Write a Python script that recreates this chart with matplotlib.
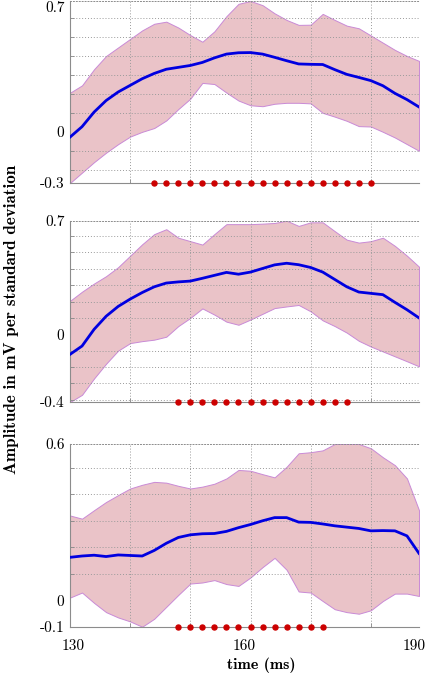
import numpy as np
import matplotlib
matplotlib.use('Agg')
import matplotlib.pyplot as plt

plt.rcParams['axes.unicode_minus'] = False

# ---- data (30 samples spanning 130-190 ms) ----
n_samples = 30
t_start, t_end = 130, 190

mean1 = [-0.028, 0.027, 0.104, 0.165, 0.21, 0.245, 0.28, 0.308, 0.33, 0.34,
         0.35, 0.366, 0.39, 0.41, 0.417, 0.418, 0.41, 0.393, 0.375, 0.358,
         0.356, 0.355, 0.328, 0.303, 0.287, 0.27, 0.243, 0.203, 0.17, 0.131]
upper1 = [0.206, 0.245, 0.33, 0.40, 0.445, 0.49, 0.535, 0.57, 0.581, 0.55,
          0.51, 0.475, 0.53, 0.61, 0.675, 0.69, 0.668, 0.625, 0.59, 0.564,
          0.565, 0.622, 0.59, 0.56, 0.546, 0.508, 0.47, 0.432, 0.40, 0.374]
lower1 = [-0.27, -0.215, -0.16, -0.11, -0.065, -0.025, 0.0, 0.02, 0.06, 0.12,
          0.175, 0.258, 0.252, 0.207, 0.165, 0.14, 0.135, 0.148, 0.153, 0.153,
          0.15, 0.1, 0.08, 0.058, 0.03, 0.028, 0.0, -0.03, -0.065, -0.1]

mean2 = [-0.123, -0.072, 0.03, 0.11, 0.17, 0.215, 0.255, 0.29, 0.313, 0.32,
         0.325, 0.342, 0.36, 0.378, 0.367, 0.38, 0.402, 0.424, 0.434, 0.425,
         0.408, 0.38, 0.335, 0.29, 0.258, 0.25, 0.242, 0.195, 0.15, 0.1]
upper2 = [0.204, 0.26, 0.31, 0.355, 0.41, 0.48, 0.55, 0.612, 0.642, 0.59,
          0.569, 0.548, 0.612, 0.673, 0.673, 0.673, 0.676, 0.68, 0.694, 0.662,
          0.684, 0.684, 0.63, 0.578, 0.56, 0.569, 0.59, 0.54, 0.48, 0.413]
lower2 = [-0.414, -0.37, -0.27, -0.18, -0.1, -0.054, -0.042, -0.033, -0.015, 0.05,
          0.1, 0.158, 0.12, 0.077, 0.058, 0.09, 0.125, 0.16, 0.17, 0.179,
          0.14, 0.085, 0.05, 0.01, -0.04, -0.075, -0.105, -0.135, -0.165, -0.196]

mean3 = [0.162, 0.167, 0.17, 0.165, 0.171, 0.169, 0.167, 0.188, 0.215, 0.237,
         0.247, 0.251, 0.252, 0.26, 0.274, 0.286, 0.3, 0.312, 0.312, 0.295,
         0.294, 0.288, 0.281, 0.276, 0.271, 0.262, 0.263, 0.262, 0.243, 0.177]
upper3 = [0.32, 0.308, 0.34, 0.371, 0.397, 0.422, 0.436, 0.447, 0.444, 0.432,
          0.422, 0.429, 0.44, 0.46, 0.492, 0.489, 0.476, 0.464, 0.504, 0.555,
          0.559, 0.566, 0.59, 0.59, 0.59, 0.574, 0.54, 0.51, 0.46, 0.34]
lower3 = [0.01, 0.029, -0.01, -0.045, -0.065, -0.08, -0.1, -0.07, -0.025, 0.02,
          0.063, 0.067, 0.076, 0.061, 0.054, 0.086, 0.125, 0.16, 0.115, 0.033,
          0.029, -0.003, -0.034, -0.045, -0.051, -0.038, -0.003, 0.025, 0.025, 0.016]

# significant sample ranges (first, last sample index)
sig1 = (7, 25)
sig2 = (9, 23)
sig3 = (9, 21)

xtick_labels = ['130', '160', '190']
xlabel = 'time (ms)'
ylabel = 'Amplitude in mV per standard deviation'

panels = [(mean1, upper1, lower1, sig1),
          (mean2, upper2, lower2, sig2),
          (mean3, upper3, lower3, sig3)]

W, H = 429, 674
rects_px = [(70, 1, 419, 183), (70, 220.7, 419, 402), (70, 444, 419, 626.7)]
# horizontal nudge (px) of the three x tick labels, as in the reference
xlabel_nudge_px = [3, 0, -5]

t = np.linspace(t_start, t_end, n_samples)

fig = plt.figure(figsize=(W / 100, H / 100), dpi=100)
tick_font = dict(family='cmr10', size=11)

for k, ((m, up, lo, sig), (x0, y0, x1, y1)) in enumerate(zip(panels, rects_px)):
    ax = fig.add_axes([x0 / W, 1 - y1 / H, (x1 - x0) / W, (y1 - y0) / H])
    m, up, lo = np.array(m), np.array(up), np.array(lo)
    ax.fill_between(t, lo, up, facecolor='#eac3c8', edgecolor='#c98ad6',
                    linewidth=0.7, zorder=1)
    ax.plot(t, m, color='#0000e0', lw=2.0, zorder=3)
    ymin, ymax = lo.min(), up.max()
    ax.set_xlim(t_start, t_end)
    ax.set_ylim(ymin, ymax)

    # dotted grid on minor ticks
    ax.set_xticks(t[5::5], minor=True)
    gy = np.arange(np.ceil(ymin * 10 - 1e-6), np.floor(ymax * 10 + 1e-6) + 1) / 10
    ax.set_yticks(gy, minor=True)
    ax.grid(which='minor', ls=(0, (1, 2)), color='#9a9a9a', lw=0.7, zorder=0)
    ax.grid(which='major', visible=False)

    ax.set_yticks([ymin, 0, ymax])
    ax.set_yticklabels(['%.1f' % ymin, '0', '%.1f' % ymax], fontdict=tick_font)
    px_per_ms = (x1 - x0) / (t_end - t_start)
    xt = [float(v) + d / px_per_ms for v, d in
          zip([t_start, (t_start + t_end) / 2, t_end], xlabel_nudge_px)]
    ax.set_xticks(xt)
    if k == 2:
        ax.set_xticklabels(xtick_labels, fontdict=tick_font)
    else:
        ax.set_xticklabels([])
    ax.tick_params(which='major', length=0, pad=4)
    ax.tick_params(axis='x', which='major', pad=9)
    ax.tick_params(which='minor', direction='in', length=3, color='#888888',
                   width=0.6)
    if k == 0:
        ax.get_yticklabels()[-1].set_verticalalignment('top')

    for s in ['left', 'bottom']:
        ax.spines[s].set_color('#8c8c8c')
        ax.spines[s].set_linewidth(0.8)
    ax.spines['right'].set_visible(False)
    ax.spines['top'].set_linestyle((0, (1, 2)))
    ax.spines['top'].set_color('#8c8c8c')
    ax.spines['top'].set_linewidth(0.7)

    idx = np.arange(sig[0], sig[1] + 1)
    ax.plot(t[idx], np.full(len(idx), ymin), 'o', color='#cc0000', ms=3.6,
            mec='#cc0000', clip_on=False, zorder=5)

fig.text(261.5 / W, 1 - 665.5 / H, xlabel, family='cmb10', size=11.5,
         ha='center', va='center')
fig.text(12 / W, 1 - 319 / H, ylabel, family='cmb10', size=12.3,
         rotation=90, ha='center', va='center')

fig.savefig('out.png', dpi=100)
